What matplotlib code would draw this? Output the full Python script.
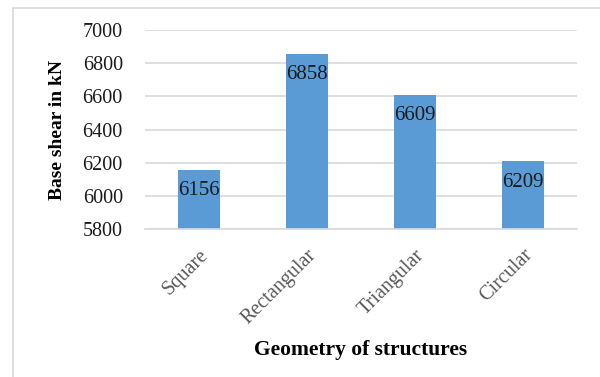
import matplotlib
matplotlib.use("Agg")
import matplotlib.pyplot as plt
from matplotlib.patches import Rectangle

categories = ["Square", "Rectangular", "Triangular", "Circular"]
base_shear = [6156, 6858, 6609, 6209]
y_ticks = [5800, 6000, 6200, 6400, 6600, 6800, 7000]

W, H = 600, 377
fig = plt.figure(figsize=(W / 100, H / 100), dpi=100)
plt.rcParams["font.family"] = ["Liberation Serif", "DejaVu Serif"]

# outer chart frame
fig.patches.append(Rectangle((13 / W, -0.1), 1.2, 1 - 8 / H + 0.1,
                             transform=fig.transFigure, fill=False,
                             edgecolor="#d9d9d9", linewidth=1.2))

ax = fig.add_axes([145 / W, 1 - 229 / H, 432 / W, 199 / H])
x = range(len(categories))
ax.bar(x, base_shear, width=0.39, color="#5b9bd5", zorder=2)
ax.set_xlim(-0.5, len(categories) - 0.5)
ax.set_ylim(5800, 7000)
ax.set_yticks(y_ticks)
ax.set_yticklabels([str(v) for v in y_ticks], fontsize=14.5, color="#1a1a1a")
ax.set_xticks(list(x))
ax.set_xticklabels(categories, rotation=45, ha="right", va="top",
                   rotation_mode="anchor", fontsize=14.5, color="#595959")
ax.tick_params(axis="y", length=0, pad=16)
ax.tick_params(axis="x", length=0, pad=12)
ax.grid(axis="y", color="#d9d9d9", linewidth=1.2, zorder=0)
for s in ["top", "right", "left"]:
    ax.spines[s].set_visible(False)
ax.spines["bottom"].set_color("#d9d9d9")
ax.spines["bottom"].set_linewidth(1.2)

for xi, v in zip(x, base_shear):
    ax.annotate(str(v), (xi, v), xytext=(0, -15), textcoords="offset points",
                ha="center", va="center", fontsize=15, color="#1a1a1a", zorder=3)

ax.set_ylabel("Base shear in kN", fontsize=14, fontweight="bold", labelpad=12)
ax.set_xlabel("Geometry of structures", fontsize=15.5, fontweight="bold", labelpad=9)

fig.savefig("out.png", dpi=100)
